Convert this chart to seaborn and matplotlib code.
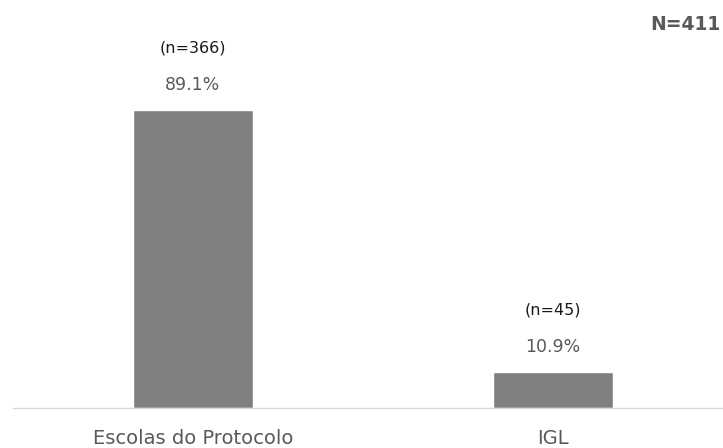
import pandas as pd
import matplotlib.pyplot as plt
import seaborn as sns

# Data
categories = ['Escolas do Protocolo', 'IGL']
percentages = [89.1, 10.9]
counts = [366, 45]
total_n = 411

df = pd.DataFrame({'grupo': categories, 'pct': percentages, 'n': counts})

sns.set_style('white')
plt.rcParams['font.family'] = ['DejaVu Sans']

fig = plt.figure(figsize=(7.23, 4.48), dpi=100)
ax = fig.add_axes([13 / 723, 40 / 448, 720 / 723, 398 / 448])

sns.barplot(data=df, x='grupo', y='pct', color='#808080', saturation=1,
            width=0.333, ax=ax)

ax.set_xlim(-0.5, 1.5)
ax.set_ylim(0, 119)

# Value labels above bars
for i, (p, n) in enumerate(zip(percentages, counts)):
    ax.annotate(f'{p:.1f}%', (i, p), xytext=(0, 18), textcoords='offset points',
                ha='center', va='center', fontsize=12.5, color='#595959')
    ax.annotate(f'(n={n})', (i, p), xytext=(0, 44.6), textcoords='offset points',
                ha='center', va='center', fontsize=11.5, color='#1a1a1a')

fig.text(720 / 723, 1 - 25 / 448, f'N={total_n}', ha='right', va='center',
         fontsize=13.5, fontweight='bold', color='#595959')

ax.set_xlabel('')
ax.set_ylabel('')
ax.set_yticks([])
ax.tick_params(axis='x', length=0, pad=14.8, labelsize=14, labelcolor='#595959')
for s in ['top', 'right', 'left']:
    ax.spines[s].set_visible(False)
ax.spines['bottom'].set_color('#d9d9d9')
ax.spines['bottom'].set_linewidth(1)

plt.savefig('out.png', dpi=100)
